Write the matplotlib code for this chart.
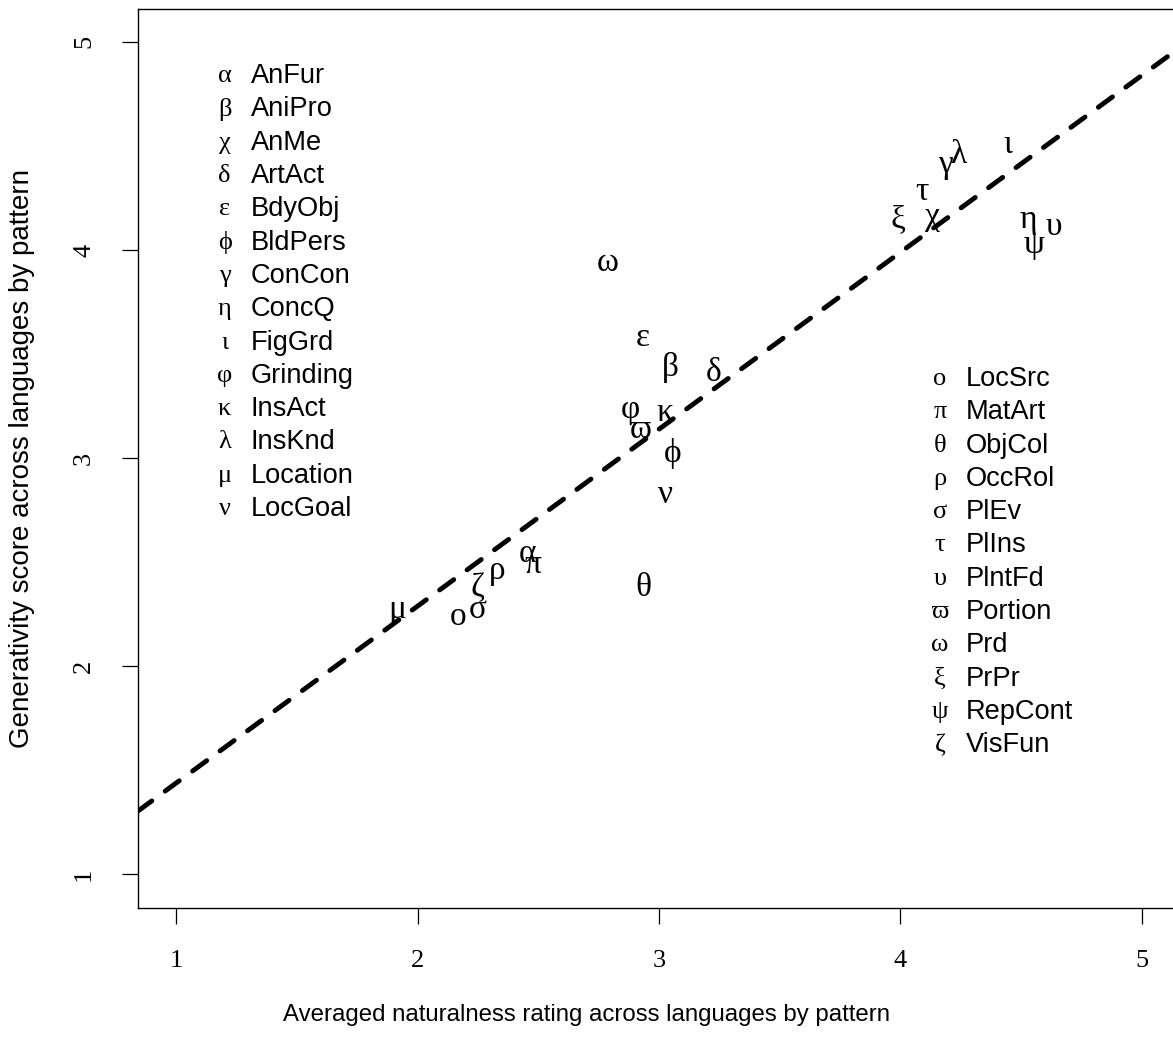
import numpy as np
import matplotlib
matplotlib.use("Agg")
import matplotlib.pyplot as plt

# pattern names, greek symbols and the two scores per pattern
patterns = ["AnFur", "AniPro", "AnMe", "ArtAct", "BdyObj", "BldPers", "ConCon",
            "ConcQ", "FigGrd", "Grinding", "InsAct", "InsKnd", "Location", "LocGoal",
            "LocSrc", "MatArt", "ObjCol", "OccRol", "PlEv", "PlIns", "PlntFd",
            "Portion", "Prd", "PrPr", "RepCont", "VisFun"]
symbols = ["\u03b1", "\u03b2", "\u03c7", "\u03b4", "\u03b5", "\u03d5", "\u03b3",
           "\u03b7", "\u03b9", "\u03c6", "\u03ba", "\u03bb", "\u03bc", "\u03bd",
           "\u03bf", "\u03c0", "\u03b8", "\u03c1", "\u03c3", "\u03c4", "\u03c5",
           "\u03d6", "\u03c9", "\u03be", "\u03c8", "\u03b6"]
naturalness = [2.456, 3.046, 4.133, 3.224, 2.934, 3.058, 4.187,
               4.527, 4.444, 2.880, 3.025, 4.241, 1.917, 3.025,
               2.166, 2.477, 2.934, 2.328, 2.249, 4.091, 4.635,
               2.921, 2.788, 3.988, 4.552, 2.249]
generativity = [2.540, 3.437, 4.159, 3.410, 3.577, 3.024, 4.409,
                4.144, 4.505, 3.230, 3.220, 4.457, 2.270, 2.822,
                2.236, 2.486, 2.375, 2.460, 2.270, 4.279, 4.110,
                3.135, 3.940, 4.144, 4.024, 2.375]

# fitted line
intercept = 0.589
slope = 0.85

greek_font = ["Liberation Serif", "DejaVu Serif"]
sans_font = ["Liberation Sans", "DejaVu Sans"]

fig = plt.figure(figsize=(11.73, 10.42), dpi=100)
ax = fig.add_axes([0.1174, 0.129, 0.889, 0.8628])
ax.set_xlim(0.84, 5.16)
ax.set_ylim(0.84, 5.16)

# regression line
xs = np.array(ax.get_xlim())
ax.plot(xs, intercept + slope * xs, color="black", lw=3.5,
        linestyle=(0, (3.6, 3.4)), dash_capstyle="round")

# greek letters as plotting symbols
for s, x, y in zip(symbols, naturalness, generativity):
    ax.text(x, y, s, fontsize=24, family=greek_font, ha="center", va="center")

# two legends without boxes
half = 14
for i in range(len(patterns)):
    if i < half:
        sx, tx, y0, row = 1.20, 1.308, 4.835, i
    else:
        sx, tx, y0, row = 4.164, 4.272, 3.38, i - half
    y = y0 - row * 0.16
    ax.text(sx, y, symbols[i], fontsize=19, family=greek_font, ha="center", va="center")
    ax.text(tx, y, patterns[i], fontsize=19.6, family=sans_font, ha="left", va="center")

ax.set_xticks([1, 2, 3, 4, 5])
ax.set_yticks([1, 2, 3, 4, 5])
ax.tick_params(axis="both", direction="out", length=11.7, width=0.9, labelsize=19)
ax.tick_params(axis="x", pad=19)
ax.tick_params(axis="y", pad=19)
for lab in ax.get_xticklabels() + ax.get_yticklabels():
    lab.set_family(["Liberation Serif", "DejaVu Serif"])
for lab in ax.get_yticklabels():
    lab.set_rotation(90)
    lab.set_va("center")
for sp in ax.spines.values():
    sp.set_linewidth(1.0)
ax.spines["right"].set_visible(False)

fig.text(0.5, 0.026, "Averaged naturalness rating across languages by pattern",
         fontsize=17.3, family=sans_font, ha="center", va="center")
fig.text(0.019, 0.56, "Generativity score across languages by pattern",
         fontsize=20, family=sans_font, ha="center", va="center", rotation=90)

fig.savefig("out.png", dpi=100)
